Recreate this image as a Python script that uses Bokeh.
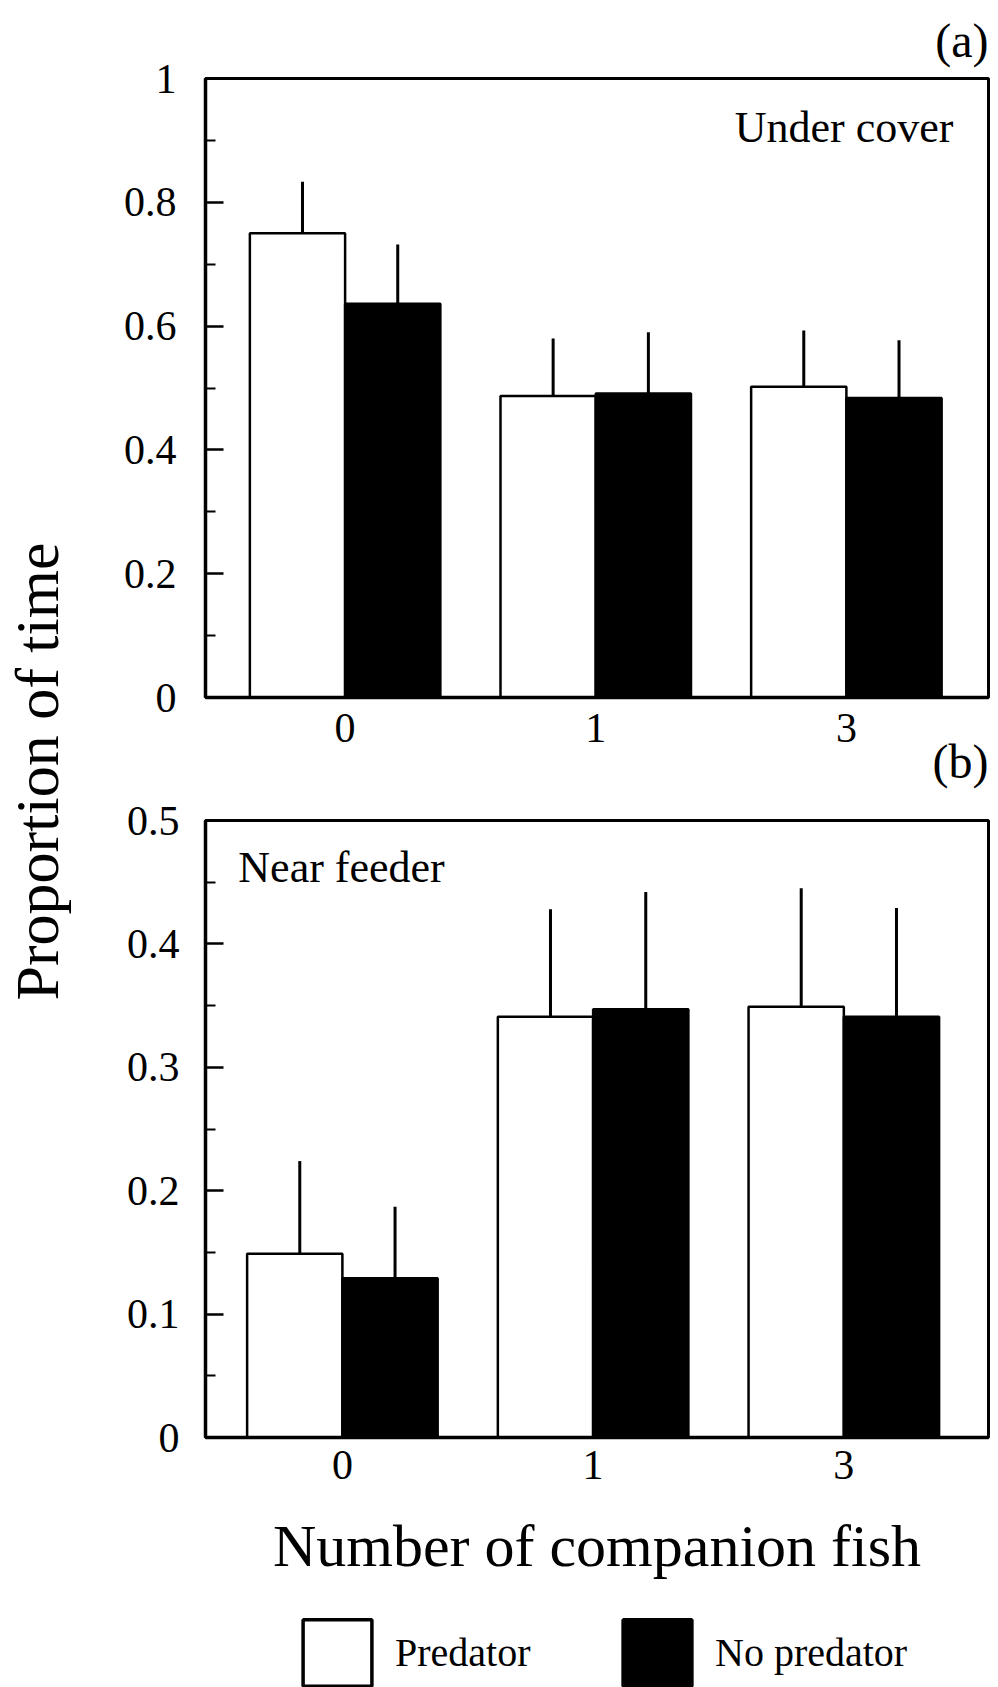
import math
from bokeh.plotting import figure
from bokeh.models import (FixedTicker, Label, Legend, LegendItem, Range1d,
                          ColumnDataSource, Title)
from bokeh.layouts import row, column
from bokeh.transform import dodge
from bokeh.embed import file_html
from bokeh.resources import INLINE

# ---------------- data ----------------
categories = ["0", "1", "3"]          # number of companion fish
series = ["Predator", "No predator"]

# panel (a): under cover
cover_predator = [0.750, 0.487, 0.502]
cover_predator_se = [0.083, 0.093, 0.091]
cover_nopredator = [0.636, 0.491, 0.484]
cover_nopredator_se = [0.096, 0.099, 0.093]

# panel (b): near feeder
feeder_predator = [0.149, 0.341, 0.349]
feeder_predator_se = [0.075, 0.087, 0.096]
feeder_nopredator = [0.129, 0.347, 0.341]
feeder_nopredator_se = [0.058, 0.095, 0.088]

ticks_a = [0, 0.2, 0.4, 0.6, 0.8, 1.0]
minor_a = [0.1, 0.3, 0.5, 0.7, 0.9]
ticks_b = [0, 0.1, 0.2, 0.3, 0.4, 0.5]
minor_b = [0.05, 0.15, 0.25, 0.35, 0.45]

# ---------------- style ----------------
SERIF = "Liberation Serif"
BAR_W = 0.38
ERR_SHIFT = 0.02
BL, BR = 115, 10


def make_source(pred, pred_se, nop, nop_se):
    return ColumnDataSource(dict(
        x=list(range(len(categories))),
        pred=pred,
        pred_hi=[v + e for v, e in zip(pred, pred_se)],
        nop=nop,
        nop_hi=[v + e for v, e in zip(nop, nop_se)],
    ))


def panel(height, bt, bb, y_end, ticks, minor, src, text, text_x, text_y,
          text_align, x0, x1, y_standoff, x_standoff):
    p = figure(width=908, height=height, x_range=Range1d(x0, x1),
               y_range=Range1d(0, y_end), output_backend="svg",
               toolbar_location=None, min_border_left=BL, min_border_right=BR,
               min_border_top=bt, min_border_bottom=bb)
    p.vbar(x=dodge("x", -BAR_W / 2, range=p.x_range), top="pred", bottom=0,
           width=BAR_W, fill_color="white", line_color="black",
           line_width=2.5, source=src)
    p.vbar(x=dodge("x", BAR_W / 2, range=p.x_range), top="nop", bottom=0,
           width=BAR_W, fill_color="black", line_color="black",
           line_width=2.5, source=src)
    p.segment(x0=dodge("x", -BAR_W / 2 + ERR_SHIFT, range=p.x_range), y0="pred",
              x1=dodge("x", -BAR_W / 2 + ERR_SHIFT, range=p.x_range), y1="pred_hi",
              line_color="black", line_width=3, source=src)
    p.segment(x0=dodge("x", BAR_W / 2 + ERR_SHIFT, range=p.x_range), y0="nop",
              x1=dodge("x", BAR_W / 2 + ERR_SHIFT, range=p.x_range), y1="nop_hi",
              line_color="black", line_width=3, source=src)

    p.xgrid.visible = False
    p.ygrid.visible = False
    p.outline_line_color = "black"
    p.outline_line_width = 3
    p.background_fill_color = "white"
    p.border_fill_color = "white"

    p.xaxis.ticker = FixedTicker(ticks=list(range(len(categories))))
    p.xaxis.major_label_overrides = {i: c for i, c in enumerate(categories)}
    p.xaxis.major_tick_line_color = None
    p.xaxis.minor_tick_line_color = None
    p.xaxis.major_label_standoff = x_standoff

    p.yaxis.ticker = FixedTicker(ticks=ticks, minor_ticks=minor)
    p.yaxis.major_label_overrides = {0: "0", 1: "1"}
    p.yaxis.major_tick_in = 18
    p.yaxis.major_tick_out = 0
    p.yaxis.minor_tick_in = 10
    p.yaxis.minor_tick_out = 0
    p.yaxis.major_tick_line_width = 2.5
    p.yaxis.minor_tick_line_width = 2
    p.yaxis.major_label_standoff = y_standoff

    for ax in (p.xaxis, p.yaxis):
        ax.axis_line_width = 3.5
        ax.axis_line_color = "black"
        ax.major_label_text_font = SERIF
        ax.major_label_text_font_size = "42px"
        ax.major_label_text_color = "black"

    p.add_layout(Label(x=text_x, y=text_y, text=text, text_font=SERIF,
                       text_font_size="44px", text_align=text_align,
                       text_baseline="middle", text_color="black"))
    return p


def tag_title(text, standoff, valign):
    return Title(text=text, align="right", text_font=SERIF,
                 text_font_size="48px", text_font_style="normal",
                 text_color="black", standoff=standoff, vertical_align=valign)


src_a = make_source(cover_predator, cover_predator_se,
                    cover_nopredator, cover_nopredator_se)
src_b = make_source(feeder_predator, feeder_predator_se,
                    feeder_nopredator, feeder_nopredator_se)

# panel (a): its tag above, and the tag of panel (b) below its axis
pa = panel(791, 78, 94, 1.0, ticks_a, minor_a, src_a,
           "Under cover", 2.427, 0.921, "right",
           -0.557, 2.567, 29, 10)
pa.title = tag_title("(a)", 22, "middle")
pa.add_layout(tag_title("(b)", -21, "middle"), "below")

pb = panel(799, 29, 153, 0.5, ticks_b, minor_b, src_b,
           "Near feeder", -0.415, 0.462, "left",
           -0.546, 2.577, 26, 7)
pb.xaxis.axis_label = "Number of companion fish"
pb.xaxis.axis_label_text_font = SERIF
pb.xaxis.axis_label_text_font_size = "60px"
pb.xaxis.axis_label_text_font_style = "normal"
pb.xaxis.axis_label_text_color = "black"
pb.xaxis.axis_label_standoff = 31

# legend strip (proxy bars share panel b data and are hidden)
pc = figure(width=908, height=97, x_range=Range1d(-0.546, 2.577),
            y_range=Range1d(-2, -1),
            x_axis_location=None, y_axis_location=None,
            min_border_left=BL, min_border_right=BR, min_border_top=0,
            min_border_bottom=0, outline_line_color=None,
            toolbar_location=None, output_backend="svg")
pc.xgrid.visible = False
pc.ygrid.visible = False
r1 = pc.vbar(x="x", top="pred", bottom=0, width=BAR_W, source=src_b,
             fill_color="white", line_color="black", line_width=3.5)
r2 = pc.vbar(x="x", top="nop", bottom=0, width=BAR_W, source=src_b,
             fill_color="black", line_color="black", line_width=3.5)
r1.visible = False
r2.visible = False
legend = Legend(items=[LegendItem(label=series[0], renderers=[r1]),
                       LegendItem(label=series[1], renderers=[r2])],
                orientation="horizontal", location=(89, -7),
                glyph_width=86, glyph_height=83, label_standoff=15,
                label_width=219, spacing=0, padding=0, margin=0,
                border_line_color=None, background_fill_alpha=0,
                inactive_fill_alpha=0,
                label_text_font=SERIF, label_text_font_size="40px",
                label_text_color="black")
pc.add_layout(legend)

# y-axis title strip
pt = figure(width=90, height=1687, x_range=Range1d(0, 90), y_range=Range1d(0, 1687),
            x_axis_location=None, y_axis_location=None,
            min_border_left=0, min_border_right=0, min_border_top=0,
            min_border_bottom=0, outline_line_color=None,
            toolbar_location=None, output_backend="svg")
pt.xgrid.visible = False
pt.ygrid.visible = False
pt.add_layout(Label(x=36, y=916, text="Proportion of time", angle=math.pi / 2,
                    text_align="center", text_baseline="middle", text_font=SERIF,
                    text_font_size="62px", text_color="black"))

layout = row(pt, column(pa, pb, pc))

with open("out.html", "w") as f:
    f.write(file_html(layout, INLINE))
